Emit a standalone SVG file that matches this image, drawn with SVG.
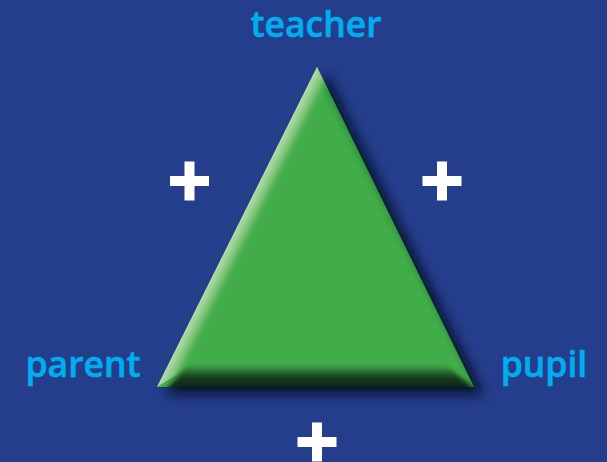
<svg xmlns="http://www.w3.org/2000/svg" width="607" height="462" viewBox="0 0 607 462">
  <style>
    .label { font-family: "Open Sans", "Noto Sans", sans-serif; font-weight: 600; font-size: 35.5px; fill: #00aeef; text-anchor: middle; stroke: #00aeef; stroke-width: 0.6; }
    .plus { fill: #ffffff; }
  </style>
  <defs>
    <filter id="shadow" x="-20%" y="-20%" width="140%" height="140%"><feGaussianBlur stdDeviation="6"/></filter>
    <filter id="soft" x="-10%" y="-20%" width="120%" height="140%"><feGaussianBlur stdDeviation="2"/></filter>
    <clipPath id="tri"><polygon points="317,67 474,387 157,387"/></clipPath>
    <linearGradient id="gLeft" gradientUnits="userSpaceOnUse" x1="237" y1="227" x2="255" y2="236">
      <stop offset="0" stop-color="#b4dcae"/><stop offset="0.45" stop-color="#86c883" stop-opacity="0.9"/><stop offset="1" stop-color="#41ad49" stop-opacity="0"/>
    </linearGradient>
    <linearGradient id="gRight" gradientUnits="userSpaceOnUse" x1="395" y1="227" x2="387" y2="231">
      <stop offset="0" stop-color="#2f8f3d" stop-opacity="0.7"/><stop offset="1" stop-color="#41ad49" stop-opacity="0"/>
    </linearGradient>
    <linearGradient id="gBottom" gradientUnits="userSpaceOnUse" x1="0" y1="387" x2="0" y2="365">
      <stop offset="0" stop-color="#10261a"/><stop offset="0.4" stop-color="#14351c"/><stop offset="0.75" stop-color="#2a7433"/><stop offset="1" stop-color="#41ad49"/>
    </linearGradient>
    <path id="plusShape" d="M-5,-19.500H5V-5H19.500V5H5V19.500H-5V5H-19.500V-5H-5Z"/>
  </defs>
  <rect id="background" width="607" height="462" fill="#243e8c"/>
  <g id="triangle">
    <polygon points="326,74 483,394 166,394" fill="#050a1e" opacity="0.9" filter="url(#shadow)"/>
    <polygon points="317,67 474,387 157,387" fill="#41ad49"/>
    <g clip-path="url(#tri)">
      <polygon points="317,40 500,40 500,387 184,376 157,387 100,387" fill="url(#gRight)"/>
      <polygon points="317,40 500,40 500,367 189,367 157,387 100,387" fill="url(#gLeft)"/>
      <polygon points="162,394 188,365 445,365 482,394" fill="url(#gBottom)" filter="url(#soft)"/>
    </g>
  </g>
  <g id="label-teacher"><text class="label" x="316" y="37">teacher</text></g>
  <g id="label-parent"><text class="label" x="83" y="377">parent</text></g>
  <g id="label-pupil"><text class="label" x="544" y="377">pupil</text></g>
  <g id="plus-left"><use class="plus" href="#plusShape" x="189.500" y="181"/></g>
  <g id="plus-right"><use class="plus" href="#plusShape" x="442" y="181"/></g>
  <g id="plus-bottom"><use class="plus" href="#plusShape" x="317" y="442"/></g>
</svg>
